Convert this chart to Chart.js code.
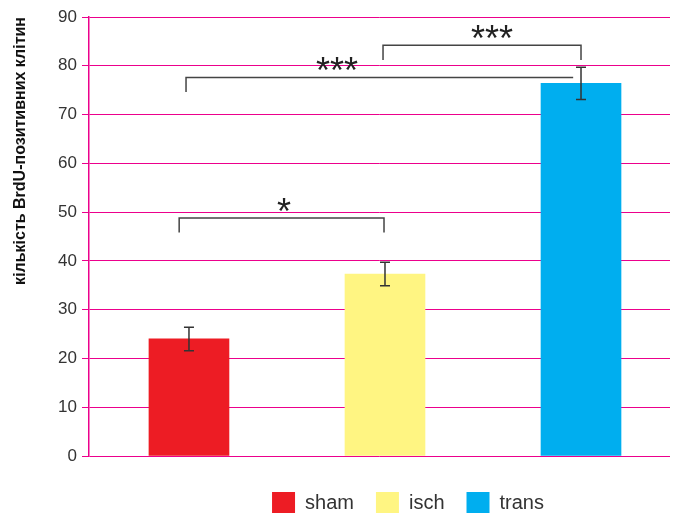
<!DOCTYPE html>
<html>
<head>
<meta charset="utf-8">
<script src="https://cdn.jsdelivr.net/npm/chart.js@4.4.1/dist/chart.umd.min.js"></script>
<style>
  html, body { margin: 0; padding: 0; background: #fff; }
  #wrap { width: 673px; height: 513px; }
</style>
</head>
<body>
<div id="wrap"><canvas id="myChart"></canvas></div>
<script>
// groups and values
var groups = ['sham', 'isch', 'trans'];
var means = [24.0, 37.3, 76.4];
var errors = [2.4, 2.4, 3.3];
var colors = ['#ed1c24', '#fff582', '#00aeef'];
var yTicks = [0, 10, 20, 30, 40, 50, 60, 70, 80, 90];

// significance brackets (x in group index units, y in axis units)
var bracketFrom = [-0.05, -0.015, 0.99];
var bracketTo = [0.995, 1.96, 2];
var bracketTop = [48.8, 77.6, 84.2];
var bracketLeftEnd = [45.8, 74.6, 81.2];
var bracketRightEnd = [45.8, 77.6, 81.2];
var bracketText = ['*', '***', '***'];
var bracketTextAt = [0.485, 0.755, 1.546];

var magenta = '#ec008c';
var sans = "'Liberation Sans', Arial, sans-serif";

var datasets = groups.map(function(g, i) {
  return {
    label: g,
    data: [{ x: i, y: means[i] }],
    backgroundColor: colors[i],
    borderWidth: 0,
    barThickness: 80,
    grouped: false
  };
});

var extras = {
  id: 'extras',
  afterLayout: function(chart) {
    var lg = chart.legend;
    lg.left += 73; lg.right += 73;
    lg.top += 14; lg.bottom += 14;
  },
  afterDatasetsDraw: function(chart) {
    var ctx = chart.ctx;
    var xs = chart.scales.x, ys = chart.scales.y;
    ctx.save();
    // error bars
    ctx.strokeStyle = '#333';
    ctx.lineWidth = 1.5;
    for (var i = 0; i < means.length; i++) {
      var x = xs.getPixelForValue(i);
      var top = ys.getPixelForValue(means[i] + errors[i]);
      var bot = ys.getPixelForValue(means[i] - errors[i]);
      ctx.beginPath();
      ctx.moveTo(x, top); ctx.lineTo(x, bot);
      ctx.moveTo(x - 5, top); ctx.lineTo(x + 5, top);
      ctx.moveTo(x - 5, bot); ctx.lineTo(x + 5, bot);
      ctx.stroke();
    }
    // brackets + stars
    ctx.strokeStyle = '#444';
    ctx.lineWidth = 1.5;
    ctx.fillStyle = '#222';
    ctx.font = "36px " + sans;
    ctx.textAlign = 'center';
    ctx.textBaseline = 'alphabetic';
    for (var b = 0; b < bracketFrom.length; b++) {
      var x1 = xs.getPixelForValue(bracketFrom[b]);
      var x2 = xs.getPixelForValue(bracketTo[b]);
      var yt = ys.getPixelForValue(bracketTop[b]);
      ctx.beginPath();
      ctx.moveTo(x1, ys.getPixelForValue(bracketLeftEnd[b]));
      ctx.lineTo(x1, yt);
      ctx.lineTo(x2, yt);
      ctx.lineTo(x2, ys.getPixelForValue(bracketRightEnd[b]));
      ctx.stroke();
      var tx = xs.getPixelForValue(bracketTextAt[b]);
      ctx.fillText(bracketText[b], tx, yt + 6);
    }
    ctx.restore();
  }
};

var ctx = document.getElementById('myChart').getContext('2d');
var myChart = new Chart(ctx, {
  type: 'bar',
  data: { datasets: datasets },
  options: {
    responsive: true,
    maintainAspectRatio: false,
    animation: false,
    layout: { padding: { top: 17, right: 3, left: 0, bottom: 3 } },
    plugins: {
      tooltip: { enabled: false },
      legend: {
        position: 'bottom',
        labels: {
          boxWidth: 23,
          boxHeight: 22,
          padding: 22,
          color: '#333',
          font: { family: sans, size: 20 }
        }
      }
    },
    scales: {
      x: {
        type: 'linear',
        display: false,
        offset: false,
        min: -0.51,
        max: 2.454,
        grid: { display: false }
      },
      y: {
        min: 0,
        max: 90,
        afterFit: function(scale) { scale.width = 89; },
        afterBuildTicks: function(scale) {
          scale.ticks = yTicks.map(function(v) { return { value: v }; });
        },
        ticks: {
          color: '#333',
          padding: 5,
          font: { family: sans, size: 17 }
        },
        grid: {
          color: magenta,
          lineWidth: 1,
          tickLength: 7,
          drawTicks: true
        },
        border: { color: magenta, width: 1.5 },
        title: {
          display: true,
          align: 'end',
          text: 'кількість BrdU-позитивних клітин',
          color: '#111',
          padding: { top: 11, bottom: 0 },
          font: { family: sans, size: 16, weight: 'bold' }
        }
      }
    }
  },
  plugins: [extras]
});
</script>
</body>
</html>
